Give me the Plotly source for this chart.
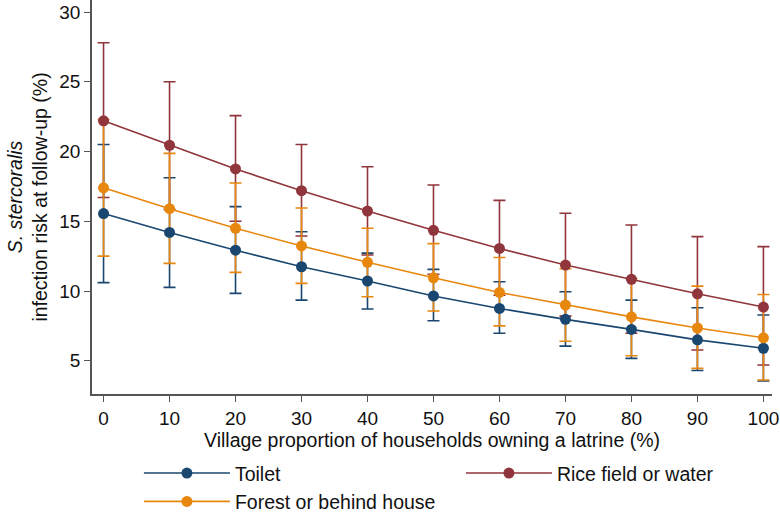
import plotly.graph_objects as go

x_vals = [0, 10, 20, 30, 40, 50, 60, 70, 80, 90, 100]

toilet_mean = [15.55, 14.2, 12.93, 11.74, 10.72, 9.65, 8.75, 7.97, 7.25, 6.5, 5.9]
toilet_low = [10.6, 10.26, 9.83, 9.35, 8.71, 7.87, 6.97, 6.05, 5.17, 4.3, 3.55]
toilet_high = [20.5, 18.12, 16.05, 14.25, 12.72, 11.55, 10.67, 9.95, 9.35, 8.8, 8.28]

forest_mean = [17.4, 15.9, 14.5, 13.23, 12.06, 10.95, 9.9, 9.0, 8.15, 7.35, 6.65]
forest_low = [12.5, 11.98, 11.34, 10.55, 9.59, 8.57, 7.5, 6.4, 5.36, 4.46, 3.62]
forest_high = [22.3, 19.87, 17.74, 15.95, 14.5, 13.4, 12.4, 11.6, 10.9, 10.35, 9.75]

rice_mean = [22.2, 20.45, 18.75, 17.19, 15.73, 14.35, 13.05, 11.86, 10.84, 9.8, 8.85]
rice_low = [16.7, 15.85, 15.0, 13.94, 12.58, 11.2, 9.7, 8.2, 6.97, 5.77, 4.7]
rice_high = [27.8, 25.0, 22.57, 20.5, 18.91, 17.6, 16.5, 15.57, 14.73, 13.9, 13.18]

y_ticks = [5, 10, 15, 20, 25, 30]
x_ticks = [0, 10, 20, 30, 40, 50, 60, 70, 80, 90, 100]

NAVY = "#1a476f"
MAROON = "#90353b"
ORANGE = "#e8870e"

series = [
    ("Toilet", toilet_mean, toilet_low, toilet_high, NAVY, 1),
    ("Rice field or water", rice_mean, rice_low, rice_high, MAROON, 2),
    ("Forest or behind house", forest_mean, forest_low, forest_high, ORANGE, 3),
]

fig = go.Figure()

# error bars first (drawn beneath markers)
for name, m, lo, hi, col, rank in series:
    fig.add_trace(go.Scatter(
        x=x_vals, y=m, mode="markers",
        marker=dict(size=1, color="rgba(0,0,0,0)"),
        error_y=dict(type="data", symmetric=False,
                     array=[h - v for h, v in zip(hi, m)],
                     arrayminus=[v - l for l, v in zip(lo, m)],
                     color=col, thickness=1.6, width=6),
        showlegend=False, hoverinfo="skip",
    ))

for name, m, lo, hi, col, rank in series:
    fig.add_trace(go.Scatter(
        x=x_vals, y=m, mode="lines+markers", name=name,
        line=dict(color=col, width=1.6),
        marker=dict(size=11, color=col),
        legendrank=rank,
    ))

FONT = "Liberation Sans, Arial, sans-serif"

fig.update_layout(
    width=780, height=512,
    margin=dict(l=92, r=8, t=0, b=118, autoexpand=False),
    paper_bgcolor="white", plot_bgcolor="white",
    font=dict(family=FONT, size=19, color="#111"),
    showlegend=True,
    legend=dict(orientation="h", x=0.069, y=-0.152, xanchor="left", yanchor="top",
                entrywidth=221, entrywidthmode="pixels",
                font=dict(size=19.5), itemwidth=86, tracegroupgap=0,
                traceorder="normal"),
)

fig.update_xaxes(
    range=[-1.75, 101.3], tickvals=x_ticks, ticks="outside", ticklen=6,
    tickcolor="#555", tickwidth=1.3, showline=True, linecolor="#555", linewidth=1.5,
    showgrid=False, zeroline=False, tickfont=dict(size=19), automargin=False,
    title=dict(text="Village proportion of households owning a latrine (%)",
               font=dict(size=19.5), standoff=4),
)
fig.update_yaxes(
    range=[2.62, 30.86], tickvals=y_ticks, ticks="outside", ticklen=6,
    tickcolor="#555", tickwidth=1.3, showline=True, linecolor="#555", linewidth=1.5,
    showgrid=False, zeroline=False, tickfont=dict(size=19), automargin=False,
    title=dict(text="<i>S. stercoralis</i><br>infection risk at follow-up (%)",
               font=dict(size=19.5), standoff=6),
)

fig.write_html("out.html", config={"displayModeBar": False},
               post_script="document.body.style.margin='0';")
